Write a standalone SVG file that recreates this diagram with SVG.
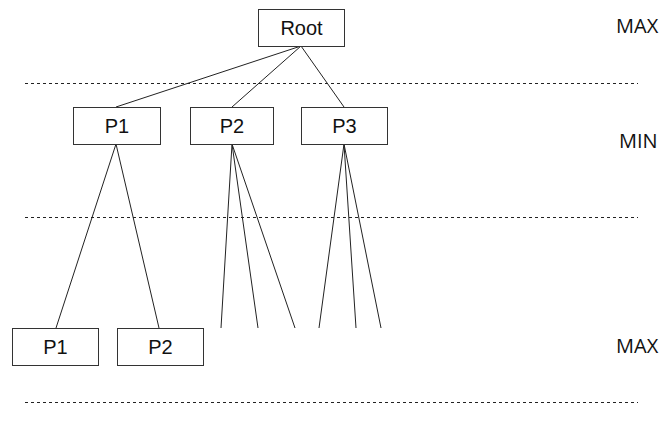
<svg xmlns="http://www.w3.org/2000/svg" width="664" height="429" viewBox="0 0 664 429">
  <style>
    .node rect { fill: #ffffff; stroke: #333333; stroke-width: 1; }
    .node text { font-family: "Liberation Sans", Arial, sans-serif; font-size: 20px; fill: #111111; text-anchor: middle; }
    .edge { stroke: #222222; stroke-width: 1; fill: none; }
    .divider { stroke: #222222; stroke-width: 1; stroke-dasharray: 3 3; }
    .level { font-family: "Open Sans", "Liberation Sans", sans-serif; font-size: 20px; fill: #111111; }
  </style>
  <rect width="664" height="429" fill="#ffffff"/>

  <!-- level separators -->
  <g id="dividers">
    <line class="divider" x1="25" y1="83.5" x2="638" y2="83.5"/>
    <line class="divider" x1="25" y1="217.5" x2="638" y2="217.5"/>
    <line class="divider" x1="25" y1="402.5" x2="638" y2="402.5"/>
  </g>

  <!-- level labels -->
  <g id="labels">
    <text class="level" x="616" y="33">MAX</text>
    <text class="level" x="619" y="148">MIN</text>
    <text class="level" x="616" y="353">MAX</text>
  </g>

  <!-- tree edges -->
  <g id="connectors">
    <line class="edge" x1="301" y1="46" x2="116" y2="107"/>
    <line class="edge" x1="301" y1="46" x2="232" y2="107"/>
    <line class="edge" x1="301" y1="46" x2="344" y2="107"/>

    <line class="edge" x1="116" y1="144" x2="56" y2="328"/>
    <line class="edge" x1="116" y1="144" x2="159" y2="328"/>

    <line class="edge" x1="232" y1="144" x2="221" y2="328"/>
    <line class="edge" x1="232" y1="144" x2="258" y2="328"/>
    <line class="edge" x1="232" y1="144" x2="295" y2="328"/>

    <line class="edge" x1="344" y1="144" x2="319" y2="328"/>
    <line class="edge" x1="344" y1="144" x2="356" y2="328"/>
    <line class="edge" x1="344" y1="144" x2="381" y2="328"/>
  </g>

  <!-- nodes -->
  <g id="root" class="node">
    <rect x="258.5" y="9.5" width="86" height="37"/>
    <text x="301.5" y="35">Root</text>
  </g>
  <g id="p1" class="node">
    <rect x="73.5" y="107.5" width="87" height="37"/>
    <text x="117" y="133">P1</text>
  </g>
  <g id="p2" class="node">
    <rect x="190.5" y="107.5" width="83" height="37"/>
    <text x="232" y="133">P2</text>
  </g>
  <g id="p3" class="node">
    <rect x="301.5" y="107.5" width="86" height="37"/>
    <text x="344.5" y="133">P3</text>
  </g>
  <g id="p1-child-p1" class="node">
    <rect x="12.5" y="328.5" width="86" height="37"/>
    <text x="55.5" y="354">P1</text>
  </g>
  <g id="p1-child-p2" class="node">
    <rect x="117.5" y="328.5" width="86" height="37"/>
    <text x="160.5" y="354">P2</text>
  </g>
</svg>
